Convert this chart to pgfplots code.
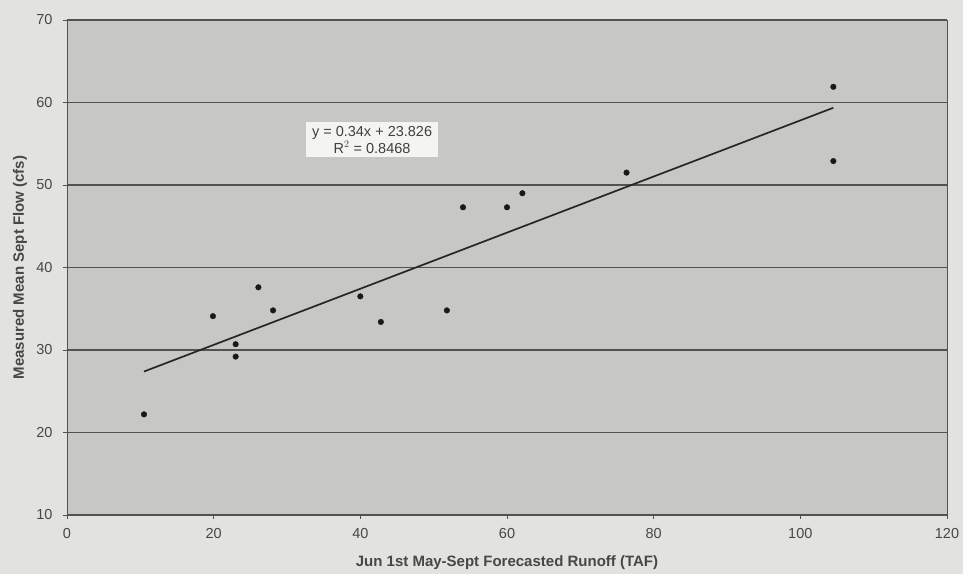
\documentclass[border=0pt]{standalone}
\usepackage{pgfplots}
\pgfplotsset{compat=1.18}
\usepackage{fontspec}
\setmainfont{Liberation Sans}
\usetikzlibrary{backgrounds,calc}
\definecolor{outerbg}{RGB}{226,227,223}
\definecolor{plotbg}{RGB}{199,200,197}
\definecolor{gridc}{RGB}{80,83,81}
\definecolor{txt}{RGB}{70,72,70}
\begin{document}
\begin{tikzpicture}
\begin{axis}[
  name=ax,
  scale only axis,
  width=880pt, height=495pt,
  xmin=0, xmax=120, ymin=10, ymax=70,
  xtick={0,20,...,120}, ytick={10,20,...,70},
  axis background/.style={fill=plotbg},
  axis line style={gridc, line width=0.9pt},
  ymajorgrids, grid style={gridc, line width=1.1pt},
  tick align=outside, tick pos=left,
  major tick length=4pt,
  tick style={gridc, line width=0.9pt},
  /pgf/number format/assume math mode=true,
  ticklabel style={font=\fontsize{14.5}{16}\selectfont, text=txt},
  xlabel={\textbf{Jun 1st May-Sept Forecasted Runoff (TAF)}},
  ylabel={\textbf{Measured Mean Sept Flow (cfs)}},
  label style={font=\fontsize{15}{17}\selectfont, text=txt},
  xlabel style={at={(axis description cs:0.5,0)}, anchor=center, yshift=-48pt},
  ylabel style={at={(axis description cs:0,0.5)}, anchor=center, yshift=47pt},
  xticklabel style={yshift=-6pt},
  yticklabel style={xshift=-7pt},
  clip=false,
]
\addplot[only marks, mark=*, mark size=2.8pt, color=black!90] coordinates {
 (10.5,22.2) (19.9,34.1) (23.0,30.7) (23.0,29.2) (26.1,37.6) (28.1,34.8)
 (40.0,36.5) (42.8,33.4) (51.8,34.8) (54.0,47.3) (60.0,47.3) (62.1,49.0)
 (76.3,51.5) (104.5,61.9) (104.5,52.9)
};
\addplot[black!85, line width=1.7pt] coordinates {(10.5,27.39) (104.5,59.36)};
\node[fill=white!80!plotbg, text=black!75, align=center, inner xsep=6pt, inner ysep=4pt,
  font=\fontsize{14.5}{17}\selectfont] at (axis cs:41.6,55.5)
  {y = 0.34x + 23.826\\R$^{2}$ = 0.8468};
\end{axis}
\begin{scope}[on background layer]
\fill[outerbg] ($(ax.south west)+(-67pt,-59pt)$) rectangle ($(ax.north east)+(16pt,20pt)$);
\end{scope}
\end{tikzpicture}
\end{document}
